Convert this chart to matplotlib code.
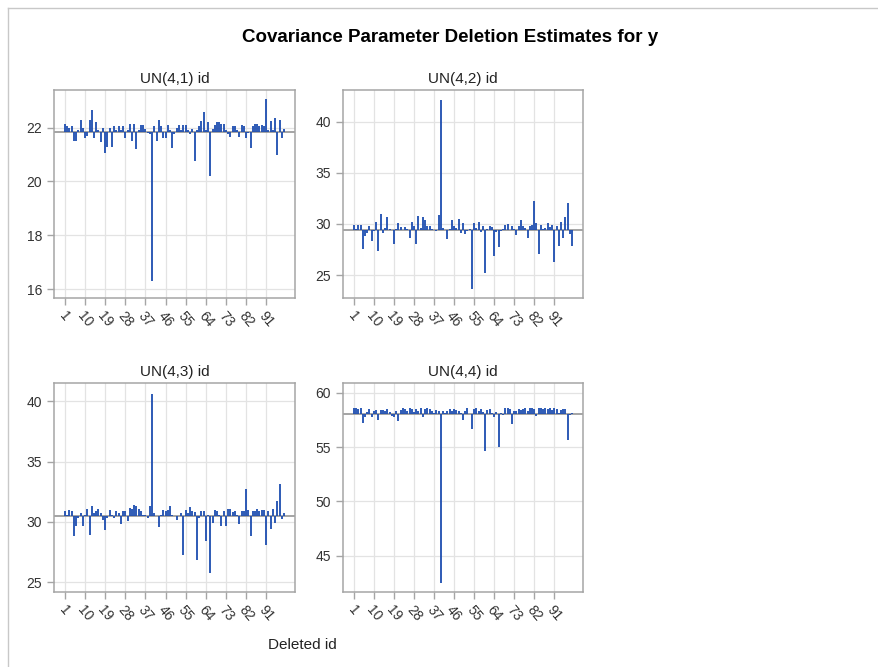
import numpy as np
import matplotlib
matplotlib.use("Agg")
import matplotlib.pyplot as plt
from matplotlib.lines import Line2D

plt.rcParams["font.family"] = ["Liberation Sans", "DejaVu Sans"]

ids = list(range(1, 100))
tick_ids = [1, 10, 19, 28, 37, 46, 55, 64, 73, 82, 91]

# full-data estimates (reference lines)
ref_41, ref_42, ref_43, ref_44 = 21.85, 29.41, 30.52, 58.04

un41 = [22.15, 22.05, 22.0, 22.05, 21.5, 21.5, 21.9, 22.3, 22.0, 21.6,
        21.7, 22.3, 22.65, 21.6, 22.2, 21.9, 21.45, 22.0, 21.05, 21.3,
        22.0, 21.3, 22.05, 21.9, 22.05, 21.9, 22.05, 21.6, 21.9, 22.15,
        21.5, 22.15, 21.2, 21.9, 22.1, 22.1, 21.95, 21.8, 21.75, 16.3,
        22.05, 21.5, 22.3, 22.05, 21.6, 21.6, 22.1, 21.9, 21.25, 21.75,
        22.0, 22.1, 21.9, 22.1, 22.1, 21.9, 21.75, 21.95, 20.75, 21.9,
        22.05, 22.25, 22.6, 21.9, 22.2, 20.2, 21.95, 22.1, 22.2, 22.2,
        22.15, 22.15, 21.9, 21.75, 21.65, 22.05, 22.05, 21.9, 21.65, 22.1,
        22.05, 21.6, 21.8, 21.25, 22.05, 22.15, 22.15, 22.05, 22.1, 22.05,
        23.05, 21.9, 22.25, 21.9, 22.35, 21.0, 22.3, 21.6, 21.95]

un42 = [29.9, 29.5, 29.9, 29.9, 27.5, 28.8, 29.1, 29.75, 28.3, 29.3,
        30.2, 27.3, 31.0, 29.1, 29.55, 30.7, 29.5, 29.4, 28.0, 29.5,
        30.1, 29.7, 29.4, 29.65, 29.5, 28.6, 30.2, 29.8, 28.0, 30.8,
        29.6, 30.7, 30.4, 29.8, 29.8, 29.5, 29.45, 29.3, 30.9, 42.1,
        29.6, 29.45, 28.5, 29.5, 30.4, 29.8, 29.6, 30.5, 29.1, 30.1,
        29.0, 29.3, 29.5, 23.6, 30.1, 29.6, 30.2, 29.2, 29.8, 25.2,
        29.5, 29.8, 29.7, 26.9, 29.2, 27.7, 29.3, 29.5, 29.9, 29.95,
        29.4, 29.8, 29.5, 28.9, 29.8, 30.4, 29.8, 29.6, 28.6, 29.8,
        29.9, 32.2, 30.1, 27.1, 29.9, 29.5, 29.6, 30.1, 29.7, 29.9,
        26.3, 29.8, 27.8, 30.2, 28.6, 30.7, 32.0, 29.0, 27.8]

un43 = [30.88, 30.6, 30.96, 30.88, 28.8, 29.7, 30.3, 30.75, 29.65, 30.6,
        31.1, 28.95, 31.3, 30.75, 30.9, 31.1, 30.75, 30.2, 29.35, 30.3,
        30.95, 30.6, 30.3, 30.9, 30.75, 29.85, 30.9, 30.9, 30.05, 31.15,
        31.1, 31.4, 31.3, 31.1, 30.9, 30.6, 30.55, 30.3, 31.3, 40.6,
        30.75, 30.5, 29.55, 30.55, 31.0, 30.9, 31.0, 31.3, 30.6, 30.5,
        30.15, 30.45, 30.75, 27.25, 31.0, 30.75, 31.2, 30.9, 30.85, 26.85,
        30.3, 30.9, 30.9, 28.4, 30.55, 25.75, 29.9, 30.95, 30.9, 30.55,
        29.65, 30.9, 29.7, 31.05, 31.1, 30.8, 30.9, 30.55, 29.8, 30.9,
        30.9, 32.75, 30.95, 28.8, 30.9, 30.9, 31.1, 30.9, 30.95, 30.95,
        28.1, 30.9, 29.45, 31.1, 29.9, 31.7, 33.1, 30.25, 30.7]

un44 = [58.6, 58.6, 58.55, 58.6, 57.25, 57.8, 58.2, 58.5, 57.8, 58.3,
        58.4, 57.5, 58.4, 58.45, 58.3, 58.5, 58.2, 57.9, 57.75, 58.3,
        57.4, 58.4, 58.6, 58.5, 58.3, 58.6, 58.5, 58.2, 58.5, 58.35,
        58.6, 57.8, 58.55, 58.6, 58.5, 58.3, 58.15, 58.4, 58.3, 42.5,
        58.3, 58.1, 58.35, 58.5, 58.3, 58.55, 58.45, 58.3, 58.1, 57.5,
        58.35, 58.6, 58.05, 56.7, 58.55, 58.6, 58.35, 58.5, 58.2, 54.6,
        58.4, 58.5, 58.1, 57.8, 58.2, 55.0, 58.1, 58.0, 58.6, 58.6,
        58.55, 57.1, 58.3, 58.35, 58.5, 58.4, 58.55, 58.6, 58.3, 58.6,
        58.6, 58.5, 57.9, 58.6, 58.6, 58.5, 58.6, 58.55, 58.6, 58.4,
        58.6, 58.5, 58.1, 58.4, 58.55, 58.5, 55.7, 58.0, 58.1]

panels = [
    ("UN(4,1) id", un41, ref_41, (15.67, 23.4), [16, 18, 20, 22]),
    ("UN(4,2) id", un42, ref_42, (22.75, 43.1), [25, 30, 35, 40]),
    ("UN(4,3) id", un43, ref_43, (24.2, 41.5), [25, 30, 35, 40]),
    ("UN(4,4) id", un44, ref_44, (41.67, 60.9), [45, 50, 55, 60]),
]

W, H = 879, 667
fig = plt.figure(figsize=(W / 100, H / 100), dpi=100)

# axes boxes in pixels: left, top, right, bottom
boxes = [(54, 90, 295, 298), (343, 90, 583, 298),
         (54, 383, 295, 592), (343, 383, 583, 592)]

pos = np.arange(len(ids))
tick_pos = [ids.index(t) for t in tick_ids]
frame = "#A5A5A5"
grid = "#E3E3E3"
needle = "#1D4DB0"

for (title, vals, ref, ylim, yticks), (l, t, r, b) in zip(panels, boxes):
    ax = fig.add_axes([l / W, 1 - b / H, (r - l) / W, (b - t) / H])
    ax.vlines(pos, ref, vals, color=needle, lw=1.3, zorder=3)
    ax.axhline(ref, color="#8C8C8C", lw=1.1, zorder=2)
    ax.set_xlim(-4.9, len(ids) - 1 + 4.9)
    ax.set_ylim(*ylim)
    ax.set_yticks(yticks)
    ax.set_xticks(tick_pos)
    ax.set_xticklabels([str(v) for v in tick_ids], rotation=-50,
                       ha="center", va="top")
    ax.grid(True, color=grid, lw=0.9, zorder=0)
    ax.set_axisbelow(True)
    for s in ax.spines.values():
        s.set_color(frame)
        s.set_linewidth(1.1)
    ax.tick_params(axis="both", colors=frame, labelcolor="#333333",
                   labelsize=10, length=5, width=1)
    ax.tick_params(axis="x", pad=3)
    ax.set_title(title, fontsize=11, color="#222222", pad=5)

fig.text(450 / W, 1 - 37 / H, "Covariance Parameter Deletion Estimates for y",
         ha="center", va="center", fontsize=13.5, fontweight="bold")
fig.text(302 / W, 1 - 645 / H, "Deleted id", ha="center", va="center",
         fontsize=11, color="#222222")

# outer border of the graph area
fig.add_artist(Line2D([8 / W, 1], [1 - 8 / H, 1 - 8 / H], color="#C8C8C8", lw=1))
fig.add_artist(Line2D([8 / W, 8 / W], [0, 1 - 8 / H], color="#C8C8C8", lw=1))

fig.savefig("out.png", dpi=100)
